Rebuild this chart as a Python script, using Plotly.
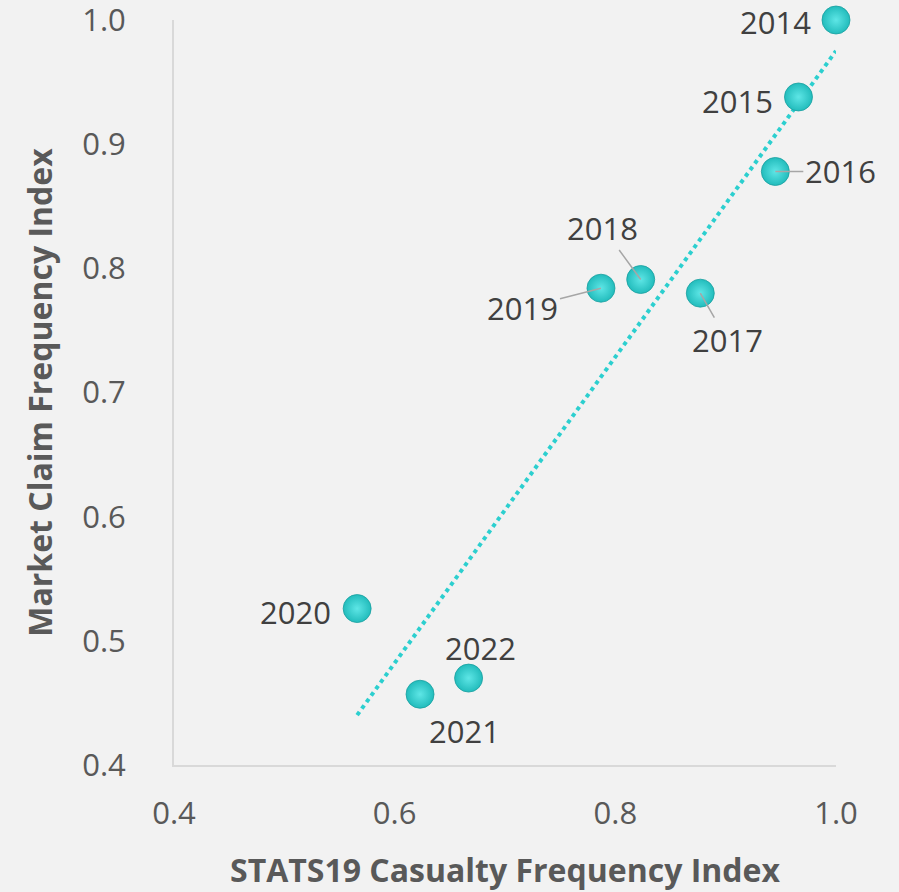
import numpy as np
import plotly.graph_objects as go

years = ["2014", "2015", "2016", "2017", "2018", "2019", "2020", "2021", "2022"]
stats19_index = [1.000, 0.966, 0.945, 0.877, 0.823, 0.787, 0.566, 0.623, 0.667]
claim_index = [1.000, 0.938, 0.878, 0.780, 0.791, 0.784, 0.526, 0.457, 0.470]

x_ticks = [0.4, 0.6, 0.8, 1.0]
y_ticks = [0.4, 0.5, 0.6, 0.7, 0.8, 0.9, 1.0]

# label placement (pixel offsets from point) and whether a leader line is drawn
label_style = {
    "2014": (-61, 2, False),
    "2015": (-61, 4, False),
    "2016": (65, 0, True),
    "2017": (27, 47, True),
    "2018": (-38, -52, True),
    "2019": (-78, 20, True),
    "2020": (-62, 3, False),
    "2021": (44, 37, False),
    "2022": (12, -30, False),
}

FONT = "Open Sans, Segoe UI, sans-serif"
TEAL = "#2ccfcf"
BG = "#f2f2f2"

x = np.array(stats19_index)
y = np.array(claim_index)
slope, intercept = np.polyfit(x, y, 1)
tx = np.linspace(x.min(), x.max(), 60)
ty = slope * tx + intercept

fig = go.Figure()
fig.add_trace(go.Scatter(
    x=tx, y=ty, mode="lines",
    line=dict(color=TEAL, width=4, dash="dot"),
    hoverinfo="skip", cliponaxis=False,
))
fig.add_trace(go.Scatter(
    x=stats19_index, y=claim_index, mode="markers",
    marker=dict(size=28, color="#22bcbc",
                gradient=dict(type="radial", color="#5ee6e6"),
                line=dict(color="#1aa0a0", width=0.8)),
    text=years, cliponaxis=False,
))

for yr, xv, yv in zip(years, stats19_index, claim_index):
    ax, ay, line = label_style[yr]
    if line:
        fig.add_annotation(
            x=xv, y=yv, text=yr, showarrow=True, ax=ax, ay=ay,
            arrowhead=0, arrowwidth=1.5, arrowcolor="#a6a6a6", standoff=0,
            font=dict(family=FONT, size=31, color="#404040"),
        )
    else:
        fig.add_annotation(
            x=xv, y=yv, text=yr, showarrow=False, xshift=ax, yshift=-ay,
            font=dict(family=FONT, size=31, color="#404040"),
        )

fig.update_layout(
    width=899, height=892,
    paper_bgcolor=BG, plot_bgcolor=BG,
    margin=dict(l=174, r=63, t=20, b=127, autoexpand=False),
    showlegend=False,
    font=dict(family=FONT, color="#595959"),
)
fig.update_xaxes(
    range=[0.4, 1.0], tickvals=x_ticks, ticktext=[f"{v:.1f}" for v in x_ticks],
    showgrid=False, zeroline=False, showline=True, linecolor="#d9d9d9", linewidth=2,
    ticks="", ticklabelstandoff=20, ticklabeloverflow="allow", automargin=False,
    tickfont=dict(size=31, color="#595959", family=FONT),
    title=dict(text="<b>STATS19 Casualty Frequency Index</b>", standoff=27,
               font=dict(size=32, color="#595959", family=FONT)),
)
fig.update_yaxes(
    range=[0.4, 1.0], tickvals=y_ticks, ticktext=[f"{v:.1f}" for v in y_ticks],
    showgrid=False, zeroline=False, showline=True, linecolor="#d9d9d9", linewidth=2,
    ticks="", ticklabelstandoff=40, ticklabeloverflow="allow", automargin=False,
    tickfont=dict(size=31, color="#595959", family=FONT),
    title=dict(text="<b>Market Claim Frequency Index</b>", standoff=20,
               font=dict(size=32, color="#595959", family=FONT)),
)

fig.write_html(
    "out.html",
    config={"displayModeBar": False},
    post_script="document.body.style.margin='0';document.body.style.background='#f2f2f2';",
)
